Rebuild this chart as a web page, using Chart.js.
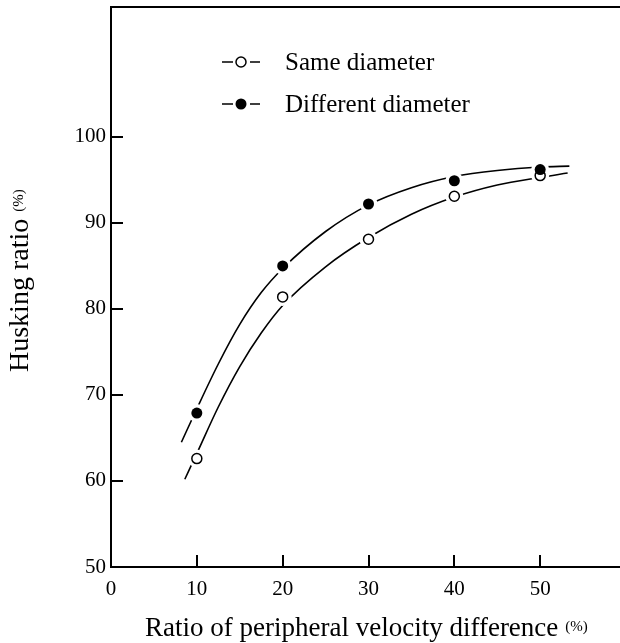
<!DOCTYPE html>
<html>
<head>
<meta charset="utf-8">
<script src="https://cdn.jsdelivr.net/npm/chart.js@4.4.0/dist/chart.umd.min.js"></script>
<style>
  html, body { margin: 0; padding: 0; background: #fff; }
  #wrap { width: 620px; height: 643px; }
</style>
</head>
<body>
<div id="wrap"><canvas id="myChart" width="620" height="643"></canvas></div>
<script>
// measured points
var velocityDiff = [10, 20, 30, 40, 50];
var sameDiameter = [62.6, 81.4, 88.1, 93.1, 95.5];
var differentDiameter = [67.9, 85.0, 92.2, 94.9, 96.2];

// fitted curves
var sameCurveX = [8.6, 10, 12.5, 15, 17.5, 20, 25, 30, 35, 40, 45, 50, 53.2];
var sameCurveY = [60.2, 63.2, 68.6, 73.3, 77.2, 80.4, 84.9, 88.3, 91.0, 93.0, 94.4, 95.3, 95.8];
var diffCurveX = [8.2, 10, 12.5, 15, 17.5, 20, 25, 30, 35, 40, 45, 50, 53.4];
var diffCurveY = [64.5, 68.4, 73.6, 78.2, 81.9, 84.7, 89.0, 92.1, 94.1, 95.4, 96.1, 96.5, 96.6];

var xTickLabels = [0, 10, 20, 30, 40, 50];
var yTickLabels = [50, 60, 70, 80, 90, 100];

var serif = 'Liberation Serif';

function pts(xs, ys) {
  return xs.map(function(x, i) { return { x: x, y: ys[i] }; });
}

// top frame line, inward tick marks, titles and the legend box
var decorations = {
  id: 'decorations',
  afterDraw: function(chart) {
    var c = chart.ctx, a = chart.chartArea;
    var xs = chart.scales.x, ys = chart.scales.y;
    c.save();
    c.strokeStyle = '#000';
    c.lineWidth = 2;
    c.beginPath();
    c.moveTo(a.left - 1, a.top);
    c.lineTo(a.right, a.top);
    c.stroke();

    xTickLabels.forEach(function(v) {
      if (v === 0) return;
      var px = Math.round(xs.getPixelForValue(v));
      c.beginPath();
      c.moveTo(px, a.bottom);
      c.lineTo(px, a.bottom - 12);
      c.stroke();
    });
    yTickLabels.forEach(function(v) {
      if (v === 50) return;
      var py = Math.round(ys.getPixelForValue(v));
      c.beginPath();
      c.moveTo(a.left, py);
      c.lineTo(a.left + 12, py);
      c.stroke();
    });

    // x title
    c.fillStyle = '#000';
    c.textBaseline = 'middle';
    c.textAlign = 'left';
    c.font = '27px "' + serif + '"';
    var xt = 'Ratio of peripheral velocity difference';
    c.fillText(xt, 145, 629);
    var w = c.measureText(xt).width;
    c.font = '15px "' + serif + '"';
    c.fillText('(%)', 145 + w + 7, 627);

    // y title
    c.save();
    c.translate(21, 372);
    c.rotate(-Math.PI / 2);
    c.font = '28px "' + serif + '"';
    var yt = 'Husking ratio';
    c.fillText(yt, 0, 0);
    w = c.measureText(yt).width;
    c.font = '15px "' + serif + '"';
    c.fillText('(%)', w + 7, -2);
    c.restore();

    // legend
    var rows = [
      { y: 62, text: 'Same diameter', filled: false },
      { y: 104, text: 'Different diameter', filled: true }
    ];
    rows.forEach(function(r) {
      c.lineWidth = 1.5;
      c.beginPath();
      c.moveTo(222, r.y); c.lineTo(233, r.y);
      c.moveTo(250, r.y); c.lineTo(260, r.y);
      c.stroke();
      c.beginPath();
      c.arc(241, r.y, r.filled ? 5.5 : 5, 0, Math.PI * 2);
      if (r.filled) { c.fill(); } else { c.fillStyle = '#fff'; c.fill(); c.fillStyle = '#000'; c.stroke(); }
      c.font = '25px "' + serif + '"';
      c.fillText(r.text, 285, r.y + 1);
    });
    c.restore();
  }
};

var ctx = document.getElementById('myChart').getContext('2d');
new Chart(ctx, {
  type: 'scatter',
  data: {
    datasets: [
      {
        label: 'Different diameter',
        data: pts(velocityDiff, differentDiameter),
        showLine: false,
        pointRadius: 5.5,
        pointBackgroundColor: '#000',
        pointBorderColor: '#000',
        pointBorderWidth: 0,
        order: 0
      },
      {
        label: 'Same diameter',
        data: pts(velocityDiff, sameDiameter),
        showLine: false,
        pointRadius: 5,
        pointBackgroundColor: '#fff',
        pointBorderColor: '#000',
        pointBorderWidth: 1.5,
        order: 0
      },
      {
        label: 'gap',
        data: pts(velocityDiff, differentDiameter),
        showLine: false,
        pointRadius: 9,
        pointBackgroundColor: '#fff',
        pointBorderWidth: 0,
        order: 1
      },
      {
        label: 'gap',
        data: pts(velocityDiff, sameDiameter),
        showLine: false,
        pointRadius: 9,
        pointBackgroundColor: '#fff',
        pointBorderWidth: 0,
        order: 1
      },
      {
        label: 'Different diameter fit',
        data: pts(diffCurveX, diffCurveY),
        showLine: true,
        borderColor: '#000',
        borderWidth: 1.6,
        pointRadius: 0,
        cubicInterpolationMode: 'monotone',
        order: 2
      },
      {
        label: 'Same diameter fit',
        data: pts(sameCurveX, sameCurveY),
        showLine: true,
        borderColor: '#000',
        borderWidth: 1.6,
        pointRadius: 0,
        cubicInterpolationMode: 'monotone',
        order: 2
      }
    ]
  },
  options: {
    responsive: false,
    animation: false,
    devicePixelRatio: 1,
    layout: { autoPadding: false, padding: { top: 7, right: 0, left: 0, bottom: 0 } },
    plugins: { legend: { display: false }, tooltip: { enabled: false } },
    scales: {
      x: {
        type: 'linear',
        min: 0,
        max: 59.3,
        afterFit: function(s) { s.height = 76; s.paddingLeft = 0; s.paddingRight = 0; },
        grid: { display: false, drawTicks: false },
        border: { display: true, color: '#000', width: 2 },
        ticks: {
          stepSize: 10,
          padding: 10,
          color: '#000',
          font: { family: serif, size: 21 },
          callback: function(v) { return xTickLabels.indexOf(v) >= 0 ? String(v) : ''; }
        }
      },
      y: {
        type: 'linear',
        min: 50,
        max: 115.1,
        afterFit: function(s) { s.width = 111; s.paddingTop = 0; s.paddingBottom = 0; },
        grid: { display: false, drawTicks: false },
        border: { display: true, color: '#000', width: 2 },
        ticks: {
          stepSize: 10,
          padding: 5,
          color: '#000',
          font: { family: serif, size: 21 },
          callback: function(v) { return yTickLabels.indexOf(v) >= 0 ? String(v) : ''; }
        }
      }
    }
  },
  plugins: [decorations]
});
</script>
</body>
</html>
